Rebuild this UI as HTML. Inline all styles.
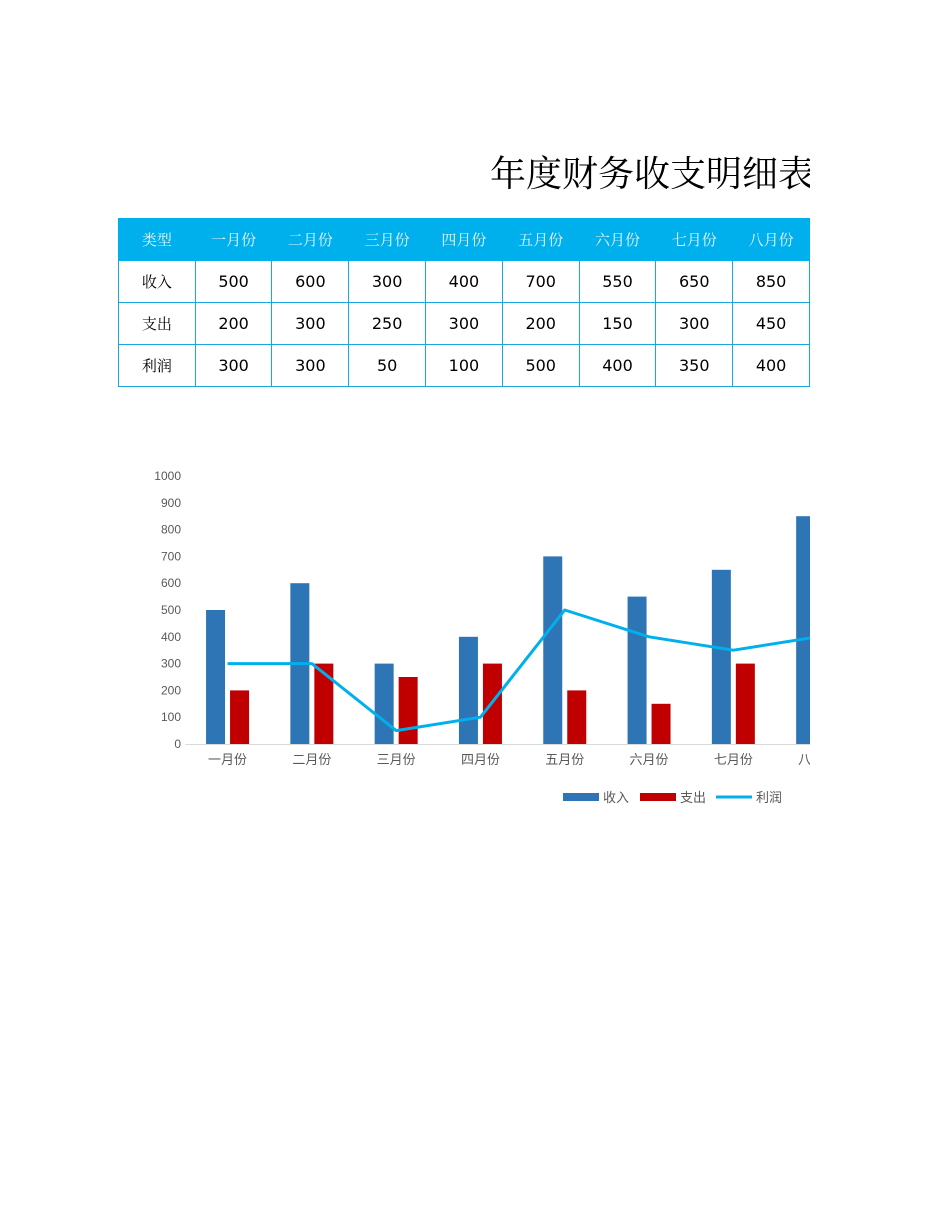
<!DOCTYPE html>
<html><head><meta charset="utf-8"><style>
body{margin:0;width:950px;height:1230px;background:#fff;position:relative;overflow:hidden;font-family:"Liberation Sans","Noto Sans CJK SC",sans-serif}
#clip{position:absolute;left:0;top:0;width:810px;height:1230px;overflow:hidden}
#title{position:absolute;left:490px;top:146px;font-size:36px;font-family:"Liberation Serif","Noto Serif CJK SC",serif;white-space:nowrap;color:#000}
table{position:absolute;left:118px;top:218px;border-collapse:collapse;table-layout:fixed}
td{width:76px;height:41px;border:1px solid #1aa6de;text-align:center;font-size:16px;padding:0;color:#000;font-family:"DejaVu Sans","Noto Sans CJK SC",sans-serif}
tr.h td{background:#00b0ec;color:#e8f7fd;font-family:"Noto Serif CJK SC",serif;font-size:15px;border-color:#00b0ec}
td.l{font-family:"Noto Serif CJK SC",serif;font-size:15px}
</style></head><body>
<div id="clip">
<div id="title">年度财务收支明细表</div>
<table>
<tr class="h"><td>类型</td><td>一月份</td><td>二月份</td><td>三月份</td><td>四月份</td><td>五月份</td><td>六月份</td><td>七月份</td><td>八月份</td></tr>
<tr><td class="l">收入</td><td>500</td><td>600</td><td>300</td><td>400</td><td>700</td><td>550</td><td>650</td><td>850</td></tr>
<tr><td class="l">支出</td><td>200</td><td>300</td><td>250</td><td>300</td><td>200</td><td>150</td><td>300</td><td>450</td></tr>
<tr><td class="l">利润</td><td>300</td><td>300</td><td>50</td><td>100</td><td>500</td><td>400</td><td>350</td><td>400</td></tr>
</table>
<svg id="chart" width="810" height="1230" style="position:absolute;left:0;top:0"></svg>
</div>
<script>
const categories=["一月份","二月份","三月份","四月份","五月份","六月份","七月份","八月份"];
const income=[500,600,300,400,700,550,650,850];
const expense=[200,300,250,300,200,150,300,450];
const profit=[300,300,50,100,500,400,350,400];
const yTicks=[0,100,200,300,400,500,600,700,800,900,1000];
const NS="http://www.w3.org/2000/svg";
const svg=document.getElementById('chart');
const y0=744,pxPer=0.268,x0=185.4,step=84.3;
const y=v=>y0-v*pxPer;
const xc=i=>x0+step*(i+0.5);
function mk(t,a,p){const e=document.createElementNS(NS,t);for(const k in a)e.setAttribute(k,a[k]);(p||svg).appendChild(e);return e;}
yTicks.forEach(v=>{const t=mk('text',{x:181,y:y(v)+4,'text-anchor':'end','font-size':12,fill:'#595959','font-family':'Liberation Sans,sans-serif'});t.textContent=v;

});
const ax=mk('line',{x1:x0,x2:820,y1:y0+0.5,y2:y0+0.5,stroke:'#d9d9d9','stroke-width':1});


categories.forEach((c,i)=>{
 const b1=mk('rect',{x:xc(i)-21.5,y:y(income[i]),width:19,height:income[i]*pxPer,fill:'#2e75b6'});
 
 
 const b2=mk('rect',{x:xc(i)+2.5,y:y(expense[i]),width:19,height:expense[i]*pxPer,fill:'#c00000'});
 
 
 const t=mk('text',{x:xc(i),y:764,'text-anchor':'middle','font-size':13,fill:'#595959','font-family':'Liberation Sans,Noto Sans CJK SC,sans-serif'});t.textContent=c;
 
 
});
const ln=mk('polyline',{points:profit.map((v,i)=>xc(i)+','+y(v)).join(' '),fill:'none',stroke:'#00b0ec','stroke-width':3,'stroke-linejoin':'round'});


const lg=mk('g',{});


mk('rect',{x:563,y:793,width:36,height:8,fill:'#2e75b6'},lg);
let t1=mk('text',{x:603,y:802,'font-size':13,fill:'#595959'},lg);t1.textContent='收入';
mk('rect',{x:640,y:793,width:36,height:8,fill:'#c00000'},lg);
let t2=mk('text',{x:680,y:802,'font-size':13,fill:'#595959'},lg);t2.textContent='支出';
mk('line',{x1:716,x2:752,y1:797,y2:797,stroke:'#00b0ec','stroke-width':3},lg);
let t3=mk('text',{x:756,y:802,'font-size':13,fill:'#595959'},lg);t3.textContent='利润';
</script>
</body></html>
